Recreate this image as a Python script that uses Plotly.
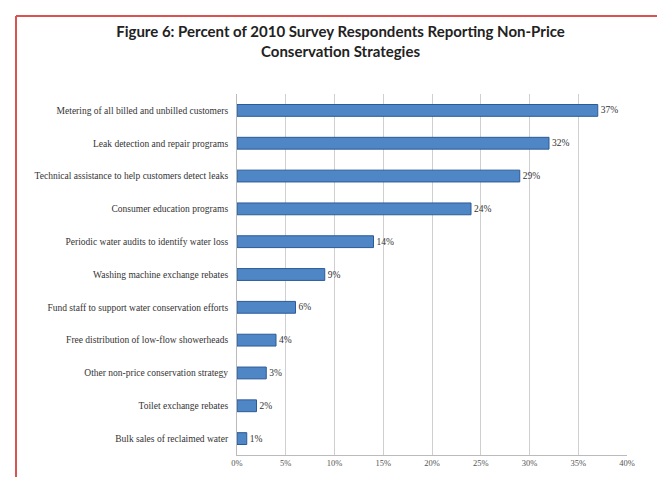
import plotly.graph_objects as go

categories = [
    "Metering of all billed and unbilled customers",
    "Leak detection and repair programs",
    "Technical assistance to help customers detect leaks",
    "Consumer education programs",
    "Periodic water audits to identify water loss",
    "Washing machine exchange rebates",
    "Fund staff to support water conservation efforts",
    "Free distribution of low-flow showerheads",
    "Other non-price conservation strategy",
    "Toilet exchange rebates",
    "Bulk sales of reclaimed water",
]
values = [37, 32, 29, 24, 14, 9, 6, 4, 3, 2, 1]
tick_vals = [0, 5, 10, 15, 20, 25, 30, 35, 40]
tick_text = ["0%", "5%", "10%", "15%", "20%", "25%", "30%", "35%", "40%"]

title = "Figure 6: Percent of 2010 Survey Respondents Reporting Non-Price<br>Conservation Strategies"

fig = go.Figure()
fig.add_trace(go.Bar(
    y=categories,
    x=values,
    orientation="h",
    width=0.36,
    marker=dict(color="#4f86c6", line=dict(color="#2c5a96", width=1)),
    text=[f"{v}%" for v in values],
    textposition="outside",
    textfont=dict(family="Liberation Serif", size=9.5, color="#333333"),
    cliponaxis=False,
))

W, H = 665, 477
L, R, T, B = 229, 46, 86, 30
pw, ph = W - L - R, H - T - B

def px(x):
    return (x - L) / pw

def py(y):
    return 1 - (y - T) / ph

red = "#d9534f"
shapes = [
    dict(type="line", xref="paper", yref="paper", x0=px(8), x1=px(663), y0=py(8), y1=py(8),
         line=dict(color=red, width=2)),
    dict(type="line", xref="paper", yref="paper", x0=px(8), x1=px(8), y0=py(8), y1=py(480),
         line=dict(color=red, width=2)),
    dict(type="line", xref="paper", yref="paper", x0=px(663), x1=px(663), y0=py(8), y1=py(480),
         line=dict(color=red, width=2)),
]

fig.update_layout(
    width=W, height=H,
    margin=dict(l=L, r=R, t=T, b=B),
    paper_bgcolor="white",
    plot_bgcolor="white",
    showlegend=False,
    title=dict(
        text="<b>" + title + "</b>",
        x=0.5, xanchor="center", xref="container",
        y=1 - 29 / H, yanchor="top",
        font=dict(family="Lato", size=15, color="#222222"),
    ),
    xaxis=dict(
        range=[0, 40],
        tickvals=tick_vals,
        ticktext=tick_text,
        tickfont=dict(family="Liberation Serif", size=8.5, color="#555555"),
        showgrid=True,
        gridcolor="#cfcfcf",
        gridwidth=1,
        showline=True,
        linecolor="#bbbbbb",
        zeroline=False,
        ticks="",
    ),
    yaxis=dict(
        autorange="reversed",
        tickfont=dict(family="Liberation Serif", size=9.5, color="#333333"),
        showline=True,
        linecolor="#bbbbbb",
        ticks="",
        ticklabelstandoff=6,
    ),
    shapes=shapes,
)

fig.write_html("out.html")
